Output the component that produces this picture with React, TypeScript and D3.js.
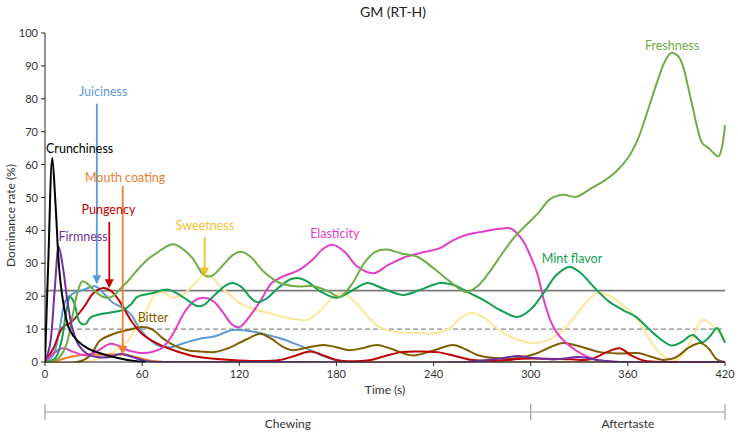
import React from "react";
import * as d3 from "d3";

const W = 738;
const H = 432;

const xTicks = [0, 60, 120, 180, 240, 300, 360, 420];
const yTicks = [0, 10, 20, 30, 40, 50, 60, 70, 80, 90, 100];

const crunchiness = [[0,0],[2,30],[4.5,62],[6.5,48],[9,27],[12,16],[15,10],[20,6.5],[27,4],[35,2.5],[45,1.2],[55,0.3],[62,0]];
const firmness = [[0,0],[3,5],[6,22],[8.5,35],[11,29],[14,18],[17,10],[21,5],[26,2.5],[32,1.5],[40,1.5],[47,2.5],[54,1.5],[62,0.3],[70,0],[150,0],[260,0],[280,1],[292,1.8],[302,1.2],[315,0.8],[330,1.5],[342,0.5],[355,0],[420,0]];
const juiciness = [[0,0],[5,2],[9,10],[13,19],[18,21],[24,22],[31,23],[36,21],[42,18],[48,16.5],[53,14.5],[58,10.5],[63,7.5],[70,5],[78,4.5],[86,5.8],[95,7],[105,7.8],[116,9.7],[125,9.5],[135,8.5],[145,7.2],[153,5.8],[162,4],[170,2.2],[180,0.5],[188,0],[300,0],[420,0]];
const mouthCoating = [[0,0],[8,0.5],[15,1.5],[25,2.3],[35,2.2],[45,2.3],[52,2],[60,1],[68,0.2],[75,0],[420,0]];
const pungency = [[0,0],[5,4],[11,10.6],[16,12],[24,16.7],[30,21],[36,22.5],[41,21.5],[46,18.5],[54,12],[60,8.5],[66,6.5],[72,5],[80,3.5],[90,2],[100,1.2],[115,0.6],[130,0.3],[145,0.6],[155,2],[164,3.2],[172,2],[180,0.6],[190,0.2],[200,0.5],[210,1.8],[220,3],[232,3.2],[242,3],[252,2],[264,0.6],[280,0.4],[295,1],[310,1],[325,0.8],[337,0.8],[347,3],[355,4.2],[362,2],[370,0.4],[385,0],[420,0]];
const bitter = [[0,0],[20,0],[28,2],[34,6.5],[44,8.8],[52,9.8],[59,10.6],[66,10],[72,7.5],[80,5],[88,3.6],[96,3.2],[104,3],[112,4],[120,5.8],[127,7.5],[133,8.6],[140,7],[147,4.6],[153,3.6],[162,4.4],[172,5.2],[180,4.5],[188,3.6],[196,4.2],[205,5.2],[215,3.8],[227,2],[240,3.5],[252,5.2],[260,3.8],[268,2],[278,1.2],[292,1.2],[303,2.5],[312,4.5],[320,5.8],[330,4.8],[343,3],[355,2.6],[366,2.7],[375,1.5],[382,0.6],[390,1.5],[398,4.5],[405,5.8],[410,4],[415,0.8],[420,0]];
const elasticity = [[0,0],[5,2.5],[11,4.2],[18,3],[26,2],[33,3.5],[40,5.5],[45,5],[50,3.8],[56,3],[61,2.7],[67,3.2],[73,4.5],[79,8.5],[86,15],[92,18.5],[98,19.5],[104,18.5],[110,15],[116,11.2],[120,10.6],[125,13],[133,18.5],[140,24],[147,26],[157,28],[165,31],[172,34.5],[178,35.6],[185,33.5],[193,29],[203,27],[212,29.5],[223,32],[235,33.5],[244,34.6],[252,37],[260,38.6],[269,39.5],[281,40.5],[288,40.5],[295,37],[300,32],[304,27],[308,19],[312,12.8],[316,9],[320,6.7],[328,3.5],[337,1.2],[345,0.3],[352,0]];
const sweetness = [[0,0],[25,0],[32,0.8],[40,2.5],[50,5.8],[57,11],[63,16],[69,21],[74,21],[79,19.5],[85,20.5],[92,23.5],[98,26.4],[104,25.5],[108,23],[114,20.5],[120,18],[127,16.4],[137,15],[147,13.7],[155,13],[162,12.8],[170,15.5],[178,19.8],[184,21],[190,19],[196,15.8],[204,11.5],[211,9.7],[220,9],[230,8.8],[242,8.8],[250,10.3],[257,13.5],[264,14.9],[271,13.5],[281,9.5],[291,7],[301,5.8],[310,6.5],[318,8.8],[326,13],[334,18],[341,21],[347,20.5],[353,18.8],[360,16],[366,12.8],[372,8],[378,3.6],[384,1.2],[390,0.6],[395,3],[400,7.6],[406,12.8],[410,12],[415,9.7],[420,7]];
const mintFlavor = [[0,0],[6,1],[10,6],[13,15],[15.5,19.8],[18,18],[21.6,12],[25,11.5],[28,13.5],[34,14.5],[40,15],[48,15.8],[53,17.5],[57,19.8],[62,20.5],[67,21],[75,22],[81,21],[88,18.8],[94,17],[98,17.3],[104,20],[112,23.4],[116,24],[122,22.5],[127,19.5],[131,18.2],[136,19],[144,22.5],[151,25],[156,25.5],[162,24.5],[170,21.5],[180,19.5],[189,21.5],[199,24],[208,22.5],[221,20.4],[232,22],[244,24],[252,23.5],[262,21],[271,18.8],[281,15.8],[292,13.7],[300,16],[308,21],[316,26.5],[324,28.9],[331,27],[339,22.8],[348,18.5],[357,15.8],[365,13.7],[372,10.5],[380,7],[387,5],[393,6],[400,8.2],[406,6],[411,8],[415,10.3],[418,8],[420,5.8]];
const freshness = [[0,0],[8,1],[13,5],[17,14],[20,21],[23,24.5],[27,23.5],[32,21],[38,19.5],[42,20],[47,22.5],[52,25],[58,28.5],[63,31],[70,33.5],[79,35.8],[86,34],[92,31],[97,27],[100,26],[104,26.5],[110,29.5],[116,32.5],[121,33.5],[127,32],[135,27.5],[145,24],[155,23],[166,23],[175,21.5],[182,19.8],[190,24],[197,30],[204,33.5],[211,34.2],[220,33],[230,32],[240,28.5],[250,24.5],[260,21.3],[267,23],[274,27],[281,32],[290,38],[298,42],[305,45.5],[312,49.5],[320,50.8],[328,50.2],[338,53],[345,55],[353,58],[360,62],[366,67.5],[372,76],[378,85],[383,91.5],[387,94],[391,93],[394,90],[397,84],[400,77.5],[403,71],[406,66.5],[410,65],[413,63.5],[416,62.5],[418,65],[420,72]];

const seriesNames = ["Sweetness","Juiciness","Mouth coating","Bitter","Pungency","Elasticity","Mint flavor","Freshness","Firmness","Crunchiness"];
const seriesData = [sweetness, juiciness, mouthCoating, bitter, pungency, elasticity, mintFlavor, freshness, firmness, crunchiness];
const seriesColors = ["#FFE699","#5B9BD5","#ED7D31","#7F6000","#C00000","#E23FC9","#12A150","#70AD47","#7030A0","#000000"];

const labelNames = ["Crunchiness","Juiciness","Mouth coating","Firmness","Pungency","Sweetness","Bitter","Elasticity","Mint flavor","Freshness"];
const labelT = [21.4, 35.9, 49.5, 23.5, 39.2, 98.8, 66.7, 179, 325.5, 387.3];
const labelV = [63.5, 81, 54.7, 36.8, 45, 40.1, 12.2, 37.7, 30.1, 94.8];
const labelColors = ["#000000","#5B9BD5","#ED7D31","#7030A0","#C00000","#F2C12E","#7F6000","#E23FC9","#12A150","#70AD47"];

const arrowT = [32, 48, 39.7, 98.6];
const arrowFrom = [78.5, 53.5, 42.5, 38];
const arrowTo = [23.6, 2.2, 22.4, 26];
const arrowColors = ["#5B9BD5","#ED7D31","#C00000","#F2C12E"];

const refSolid = 21.7;
const refDashed = 10;
const phaseBounds = [0, 300, 420];
const phaseNames = ["Chewing", "Aftertaste"];

export default function App() {
  const x = d3.scaleLinear().domain([0, 420]).range([45, 725]);
  const y = d3.scaleLinear().domain([0, 100]).range([362, 33]);
  const line = d3
    .line<number[]>()
    .x((d) => x(d[0]))
    .y((d) => y(d[1]))
    .curve(d3.curveCatmullRom.alpha(0.5));
  const font = "Lato, 'Open Sans', sans-serif";
  const bracketY = 412;
  return (
    <svg
      width={W}
      height={H}
      style={{ position: "absolute", left: 0, top: 0, background: "#fff" }}
      fontFamily={font}
    >
      <defs>
        <clipPath id="plotclip">
          <rect x={x(0)} y={0} width={x(420) - x(0) + 4} height={y(0) + 0.5} />
        </clipPath>
      </defs>
      <text x={393} y={17} textAnchor="middle" fontSize={14} fill="#222">
        GM (RT-H)
      </text>
      <line x1={x(0)} x2={x(0)} y1={y(100)} y2={y(0)} stroke="#222" strokeWidth={1} />
      {yTicks.map((t) => (
        <g key={"y" + t}>
          <line x1={x(0) - 4} x2={x(0)} y1={y(t)} y2={y(t)} stroke="#222" />
          <text x={x(0) - 7} y={y(t) + 4} textAnchor="end" fontSize={11} fill="#333">
            {t}
          </text>
        </g>
      ))}
      <text
        transform={`translate(15,${(y(0) + y(100)) / 2 + 18}) rotate(-90)`}
        textAnchor="middle"
        fontSize={12}
        fill="#333"
      >
        Dominance rate (%)
      </text>
      <line x1={x(0)} x2={x(420)} y1={y(refSolid)} y2={y(refSolid)} stroke="#7a7a7a" strokeWidth={1.6} />
      <line x1={x(0)} x2={x(420)} y1={y(refDashed)} y2={y(refDashed)} stroke="#8a8a8a" strokeWidth={1.3} strokeDasharray="5,3" />
      <g clipPath="url(#plotclip)">
        {seriesData.map((d, i) => (
          <path key={seriesNames[i]} d={line(d) || ""} fill="none" stroke={seriesColors[i]} strokeWidth={2} />
        ))}
      </g>
      <line x1={x(0)} x2={x(420)} y1={y(0)} y2={y(0)} stroke="#222" strokeWidth={1} />
      {xTicks.map((t) => (
        <g key={"x" + t}>
          <line x1={x(t)} x2={x(t)} y1={y(0)} y2={y(0) + 4} stroke="#222" />
          <text x={x(t)} y={y(0) + 16} textAnchor="middle" fontSize={11} fill="#333">
            {t}
          </text>
        </g>
      ))}
      <text x={385} y={394} textAnchor="middle" fontSize={12} fill="#333">
        Time (s)
      </text>
      {arrowT.map((t, i) => {
        const ax = x(t);
        const y1 = y(arrowFrom[i]);
        const y2 = y(arrowTo[i]);
        return (
          <g key={"a" + i}>
            <line x1={ax} x2={ax} y1={y1} y2={y2 - 8} stroke={arrowColors[i]} strokeWidth={1.8} />
            <path d={`M${ax - 4.5},${y2 - 9}L${ax + 4.5},${y2 - 9}L${ax},${y2}Z`} fill={arrowColors[i]} />
          </g>
        );
      })}
      {labelNames.map((n, i) => (
        <text key={n} x={x(labelT[i])} y={y(labelV[i])} textAnchor="middle" fontSize={12.5} fill={labelColors[i]}>
          {n}
        </text>
      ))}
      <line x1={x(0)} x2={x(420)} y1={bracketY} y2={bracketY} stroke="#a0a0a0" strokeWidth={1.2} />
      {phaseBounds.map((b) => (
        <line key={"pb" + b} x1={x(b)} x2={x(b)} y1={bracketY - 8} y2={bracketY + 8} stroke="#a0a0a0" strokeWidth={1.2} />
      ))}
      {phaseNames.map((n, i) => (
        <text
          key={n}
          x={(x(phaseBounds[i]) + x(phaseBounds[i + 1])) / 2}
          y={428}
          textAnchor="middle"
          fontSize={12}
          fill="#333"
        >
          {n}
        </text>
      ))}
    </svg>
  );
}
